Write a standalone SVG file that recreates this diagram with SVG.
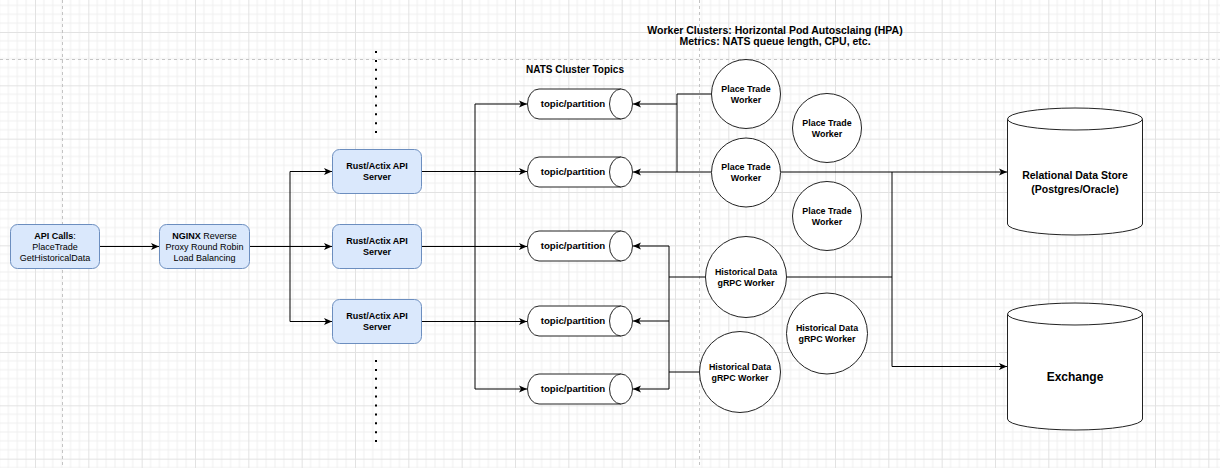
<svg xmlns="http://www.w3.org/2000/svg" width="1220" height="468" viewBox="0 0 1220 468">
<defs>
<pattern id="grid" patternUnits="userSpaceOnUse" x="35" y="32" width="53.333" height="53.333">
<path d="M8.889,0 V53.333 M17.778,0 V53.333 M26.667,0 V53.333 M35.556,0 V53.333 M44.444,0 V53.333 M0,8.889 H53.333 M0,17.778 H53.333 M0,26.667 H53.333 M0,35.556 H53.333 M0,44.444 H53.333" stroke="#f0f0f0" stroke-width="1" fill="none"/>
<path d="M0.5,0 V53.333 M0,0.5 H53.333" stroke="#e2e2e2" stroke-width="1" fill="none"/>
</pattern>
<marker id="arr" markerUnits="userSpaceOnUse" markerWidth="9" markerHeight="8" refX="8" refY="4" orient="auto">
<path d="M0,0.5 L8,4 L0,7.5 L2,4 Z" fill="#000"/>
</marker>
</defs>
<style>
.box{fill:#dae8fc;stroke:#6c8ebf;stroke-width:1}
.shape{fill:#fff;stroke:#222;stroke-width:1}
.edge{fill:none;stroke:#000;stroke-width:1}
.arrow{marker-end:url(#arr)}
.dash{stroke:#c4c4c4;stroke-width:1;stroke-dasharray:3 3;fill:none}
.dots{stroke:#000;stroke-width:2;stroke-dasharray:2 6.9;fill:none}
text{font-family:"Liberation Sans",Arial,sans-serif;fill:#000;text-anchor:middle}
.b{font-weight:bold}
.t9{font-size:9px}
.tp{font-size:9.7px;font-weight:bold}
.tw{font-size:8.9px;font-weight:bold}
.th{font-size:10.5px;font-weight:bold}
</style>
<rect x="0" y="0" width="1220" height="468" fill="#fff"/>
<rect x="0" y="0" width="1220" height="468" fill="url(#grid)"/>
<g id="guides">
<path class="dash" d="M0,59.5 H1220"/>
<path class="dash" d="M62.5,0 V468"/>
<path class="dash" d="M699.5,0 V468"/>
<path class="dots" d="M376,51 V133"/>
<path class="dots" d="M376,360 V442"/>
</g>
<g id="titles">
<text class="b" x="575" y="72.8" font-size="10px">NATS Cluster Topics</text>
<text class="th" x="775" y="33.7">Worker Clusters: Horizontal Pod Autosclaing (HPA)</text>
<text class="th" x="775" y="44.7">Metrics: NATS queue length, CPU, etc.</text>
</g>
<g id="connectors">
<path class="edge arrow" d="M100,246.5 H159"/>
<path class="edge arrow" d="M250,246.5 H290 V171.5 H332"/>
<path class="edge arrow" d="M250,246.5 H332"/>
<path class="edge arrow" d="M290,246.5 V321.5 H332"/>
<path class="edge arrow" d="M422,171.5 H527"/>
<path class="edge arrow" d="M475,171.5 V104 H527"/>
<path class="edge arrow" d="M422,246.5 H527"/>
<path class="edge arrow" d="M422,321.5 H527"/>
<path class="edge arrow" d="M475,171.5 V389 H527"/>
<path class="edge" d="M711.5,94 H677 V172"/>
<path class="edge arrow" d="M677,104 H633"/>
<path class="edge arrow" d="M711.5,172 H633"/>
<path class="edge arrow" d="M781,172 H1007"/>
<path class="edge arrow" d="M892,172 V366.5 H1007"/>
<path class="edge" d="M706,277 H669"/>
<path class="edge arrow" d="M669,277 V246 H633"/>
<path class="edge arrow" d="M669,277 V321 H633"/>
<path class="edge arrow" d="M669,321 V389 H633"/>
<path class="edge" d="M699.5,372 H669"/>
<path class="edge" d="M786.5,277 H892"/>
</g>
<g id="api-calls">
<rect class="box" x="10.5" y="224.5" width="89" height="44" rx="7"/>
<text class="t9" x="55" y="238.7"><tspan class="b">API Calls</tspan>:</text>
<text class="t9" x="55" y="249.7">PlaceTrade</text>
<text class="t9" x="55" y="260.7">GetHistoricalData</text>
</g>
<g id="nginx">
<rect class="box" x="159.5" y="224.5" width="90" height="44" rx="7"/>
<text class="t9" x="204.5" y="238.7"><tspan class="b">NGINX</tspan> Reverse</text>
<text class="t9" x="204.5" y="249.7">Proxy Round Robin</text>
<text class="t9" x="204.5" y="260.7">Load Balancing</text>
</g>
<g id="server-1">
<rect class="box" x="332.5" y="149.5" width="89" height="44" rx="7"/>
<text class="t9 b" x="377" y="169.2">Rust/Actix API</text>
<text class="t9 b" x="377" y="180.2">Server</text>
</g>
<g id="server-2">
<rect class="box" x="332.5" y="224.5" width="89" height="44" rx="7"/>
<text class="t9 b" x="377" y="244.2">Rust/Actix API</text>
<text class="t9 b" x="377" y="255.2">Server</text>
</g>
<g id="server-3">
<rect class="box" x="332.5" y="299.5" width="89" height="44" rx="7"/>
<text class="t9 b" x="377" y="319.2">Rust/Actix API</text>
<text class="t9 b" x="377" y="330.2">Server</text>
</g>
<g id="topic-1">
<path class="shape" d="M539,89 H621 A11.5,15 0 0 1 621,119 H539 A11.5,15 0 0 1 539,89 Z"/>
<path class="shape" d="M621,89 A11.5,15 0 0 0 621,119"/>
<text class="tp" x="573" y="107.4">topic/partition</text>
</g>
<g id="topic-2">
<path class="shape" d="M539,157 H621 A11.5,15 0 0 1 621,187 H539 A11.5,15 0 0 1 539,157 Z"/>
<path class="shape" d="M621,157 A11.5,15 0 0 0 621,187"/>
<text class="tp" x="573" y="175.4">topic/partition</text>
</g>
<g id="topic-3">
<path class="shape" d="M539,231 H621 A11.5,15 0 0 1 621,261 H539 A11.5,15 0 0 1 539,231 Z"/>
<path class="shape" d="M621,231 A11.5,15 0 0 0 621,261"/>
<text class="tp" x="573" y="249.4">topic/partition</text>
</g>
<g id="topic-4">
<path class="shape" d="M539,306 H621 A11.5,15 0 0 1 621,336 H539 A11.5,15 0 0 1 539,306 Z"/>
<path class="shape" d="M621,306 A11.5,15 0 0 0 621,336"/>
<text class="tp" x="573" y="324.4">topic/partition</text>
</g>
<g id="topic-5">
<path class="shape" d="M539,374 H621 A11.5,15 0 0 1 621,404 H539 A11.5,15 0 0 1 539,374 Z"/>
<path class="shape" d="M621,374 A11.5,15 0 0 0 621,404"/>
<text class="tp" x="573" y="392.4">topic/partition</text>
</g>
<g id="place-trade-1">
<circle class="shape" cx="746" cy="94" r="34.5"/>
<text class="tw" x="746" y="91.6">Place Trade</text>
<text class="tw" x="746" y="102.6">Worker</text>
</g>
<g id="place-trade-2">
<circle class="shape" cx="827" cy="128" r="34.5"/>
<text class="tw" x="827" y="125.6">Place Trade</text>
<text class="tw" x="827" y="136.6">Worker</text>
</g>
<g id="place-trade-3">
<circle class="shape" cx="746" cy="172.5" r="34.5"/>
<text class="tw" x="746" y="170.1">Place Trade</text>
<text class="tw" x="746" y="181.1">Worker</text>
</g>
<g id="place-trade-4">
<circle class="shape" cx="827" cy="216" r="34.5"/>
<text class="tw" x="827" y="213.6">Place Trade</text>
<text class="tw" x="827" y="224.6">Worker</text>
</g>
<g id="historical-1">
<circle class="shape" cx="746" cy="277" r="40.5"/>
<text class="tw" x="746" y="274.6">Historical Data</text>
<text class="tw" x="746" y="285.6">gRPC Worker</text>
</g>
<g id="historical-2">
<circle class="shape" cx="827" cy="333.5" r="40.5"/>
<text class="tw" x="827" y="331.1">Historical Data</text>
<text class="tw" x="827" y="342.1">gRPC Worker</text>
</g>
<g id="historical-3">
<circle class="shape" cx="740" cy="372" r="40.5"/>
<text class="tw" x="740" y="369.6">Historical Data</text>
<text class="tw" x="740" y="380.6">gRPC Worker</text>
</g>
<g id="relational-store">
<path class="shape" d="M1007.5,119 A67.5,11 0 0 1 1142.5,119 V224 A67.5,11 0 0 1 1007.5,224 Z"/>
<path class="shape" d="M1007.5,119 A67.5,11 0 0 0 1142.5,119"/>
<text class="th" x="1075" y="178.7">Relational Data Store</text>
<text class="th" x="1075" y="192.7">(Postgres/Oracle)</text>
</g>
<g id="exchange">
<path class="shape" d="M1007.5,314 A67.5,11 0 0 1 1142.5,314 V419 A67.5,11 0 0 1 1007.5,419 Z"/>
<path class="shape" d="M1007.5,314 A67.5,11 0 0 0 1142.5,314"/>
<text class="b" x="1075" y="381" font-size="12px">Exchange</text>
</g>
</svg>
